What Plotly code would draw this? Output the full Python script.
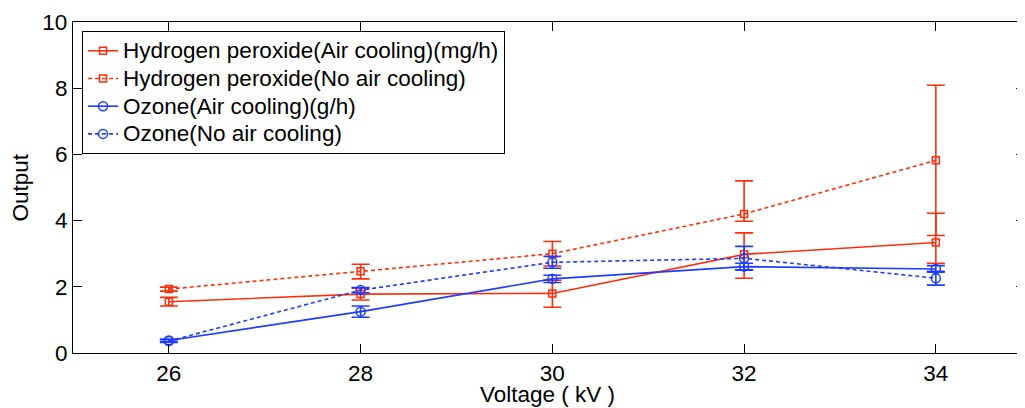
import plotly.graph_objects as go

voltage = [26, 28, 30, 32, 34]

h2o2_air = [1.55, 1.78, 1.80, 2.98, 3.34]
h2o2_air_up = [0.13, 0.18, 0.40, 0.65, 0.88]
h2o2_air_dn = [0.13, 0.18, 0.42, 0.72, 0.63]

h2o2_noair = [1.93, 2.47, 3.00, 4.20, 5.82]
h2o2_noair_up = [0.06, 0.21, 0.37, 1.00, 2.27]
h2o2_noair_dn = [0.06, 0.23, 0.37, 0.22, 2.27]

ozone_air = [0.38, 1.25, 2.24, 2.61, 2.54]
ozone_air_err = [0.04, 0.17, 0.11, 0.10, 0.10]

ozone_noair = [0.36, 1.90, 2.74, 2.86, 2.26]
ozone_noair_err = [0.04, 0.08, 0.18, 0.36, 0.21]

series_names = [
    "Hydrogen peroxide(Air cooling)(mg/h)",
    "Hydrogen peroxide(No air cooling)",
    "Ozone(Air cooling)(g/h)",
    "Ozone(No air cooling)",
]

x_ticks = [26, 28, 30, 32, 34]
y_ticks = [0, 2, 4, 6, 8, 10]

RED = "#FF2E0A"
BLUE = "#1E3CFF"
FONT = "Arial, Liberation Sans, sans-serif"
FS = 22.5
LEG_FS = 19

fig = go.Figure()


def add(name, y, up, dn, color, symbol, dash, msize):
    fig.add_trace(go.Scatter(
        x=voltage, y=y,
        name='<span style="font-size:22.5px">' + name + '</span>',
        mode="lines+markers",
        line=dict(color=color, width=1.6, dash=dash),
        marker=dict(symbol=symbol, size=msize, color=color,
                    line=dict(color=color, width=1.5)),
        error_y=dict(type="data", symmetric=False, array=up, arrayminus=dn,
                     color=color, thickness=1.6, width=9),
    ))


add(series_names[0], h2o2_air, h2o2_air_up, h2o2_air_dn,
    RED, "square-open", "solid", 7)
add(series_names[1], h2o2_noair, h2o2_noair_up, h2o2_noair_dn,
    RED, "square-open", "4px,3px", 7)
add(series_names[2], ozone_air, ozone_air_err, ozone_air_err,
    BLUE, "circle-open", "solid", 9)
add(series_names[3], ozone_noair, ozone_noair_err, ozone_noair_err,
    BLUE, "circle-open", "4px,3px", 9)

axis_common = dict(
    showline=True, linecolor="black", linewidth=1.2, mirror="ticks",
    ticks="inside", ticklen=9, tickcolor="black", tickwidth=1,
    showgrid=False, zeroline=False,
    tickfont=dict(family=FONT, size=FS, color="black"),
)

fig.update_layout(
    width=1017, height=400,
    margin=dict(l=65, r=0, t=14, b=55),
    paper_bgcolor="white", plot_bgcolor="white",
    font=dict(family=FONT, size=FS, color="black"),
    showlegend=True,
    legend=dict(
        x=0.0095, y=0.973, xanchor="left", yanchor="top",
        bgcolor="white", bordercolor="black", borderwidth=1,
        font=dict(family=FONT, size=LEG_FS, color="black"),
    ),
    xaxis=dict(range=[25, 34.93], tickvals=x_ticks, **axis_common),
    yaxis=dict(range=[0, 10], tickvals=y_ticks, **axis_common),
    annotations=[
        dict(text="Voltage ( kV )", xref="paper", yref="paper",
             x=0.498, y=0, xanchor="center", yanchor="middle", yshift=-41,
             showarrow=False, font=dict(family=FONT, size=FS, color="black")),
        dict(text="Output", xref="paper", yref="paper", textangle=-90,
             x=0, y=0.5, xanchor="center", yanchor="middle", xshift=-53,
             showarrow=False, font=dict(family=FONT, size=FS, color="black")),
    ],
)

fig.write_html("out.html")
